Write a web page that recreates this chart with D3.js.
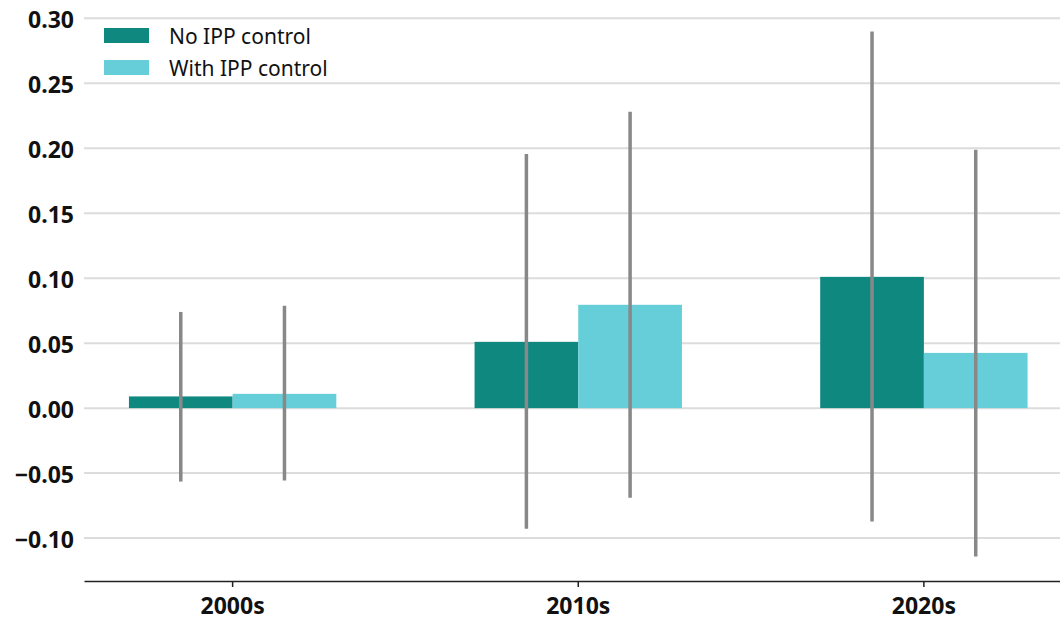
<!DOCTYPE html>
<html>
<head>
<meta charset="utf-8">
<script src="https://cdn.jsdelivr.net/npm/d3@7"></script>
<style>
  html, body { margin: 0; padding: 0; background: #fff; }
  svg { display: block; }
</style>
</head>
<body>
<svg id="chart" width="1060" height="620"></svg>
<script>
const categories = ["2000s", "2010s", "2020s"];
const seriesNames = ["No IPP control", "With IPP control"];
const noIppValues = [0.009, 0.051, 0.101];
const noIppLow = [-0.0565, -0.0928, -0.0873];
const noIppHigh = [0.074, 0.1956, 0.2898];
const withIppValues = [0.011, 0.0795, 0.0425];
const withIppLow = [-0.0557, -0.069, -0.1142];
const withIppHigh = [0.0787, 0.228, 0.1988];
const yTicks = [-0.10, -0.05, 0.00, 0.05, 0.10, 0.15, 0.20, 0.25, 0.30];
const colors = ["#0f8880", "#66ced8"];

const series = [
  { name: seriesNames[0], values: noIppValues, lo: noIppLow, hi: noIppHigh, color: colors[0] },
  { name: seriesNames[1], values: withIppValues, lo: withIppLow, hi: withIppHigh, color: colors[1] }
];

const svg = d3.select("#chart");
const left = 84, bottom = 581;

const y = d3.scaleLinear().domain([-0.133, 0.314]).range([bottom, 0]);
const x = d3.scaleBand().domain(categories).range([left, 1072.5]).paddingInner(0.4).paddingOuter(0.13);
const xs = d3.scaleBand().domain(seriesNames).range([0, x.bandwidth()]);

// gridlines
svg.append("g").selectAll("line").data(yTicks).join("line")
  .attr("x1", left).attr("x2", 1060)
  .attr("y1", d => y(d)).attr("y2", d => y(d))
  .attr("stroke", "#dcdcdc").attr("stroke-width", 2);

// y labels
const fmt = d3.format(".2f");
svg.append("g").selectAll("text").data(yTicks).join("text")
  .attr("x", left - 10).attr("y", d => y(d) + 1)
  .attr("text-anchor", "end").attr("dominant-baseline", "central")
  .style("font-family", "'Noto Sans', sans-serif").style("font-weight", "bold")
  .style("font-size", "23px").attr("fill", "#111")
  .text(d => fmt(d));

// bars
series.forEach(s => {
  svg.append("g").selectAll("rect").data(categories).join("rect")
    .attr("x", (c) => x(c) + xs(s.name))
    .attr("width", xs.bandwidth())
    .attr("y", (c, i) => y(Math.max(0, s.values[i])))
    .attr("height", (c, i) => Math.abs(y(s.values[i]) - y(0)))
    .attr("fill", s.color);
});

// error bars
series.forEach(s => {
  svg.append("g").selectAll("line").data(categories).join("line")
    .attr("x1", c => x(c) + xs(s.name) + xs.bandwidth() / 2)
    .attr("x2", c => x(c) + xs(s.name) + xs.bandwidth() / 2)
    .attr("y1", (c, i) => y(s.lo[i]))
    .attr("y2", (c, i) => y(s.hi[i]))
    .attr("stroke", "#888").attr("stroke-width", 3.5);
});

// x axis
const xAxis = svg.append("g").attr("transform", `translate(0,${bottom})`)
  .call(d3.axisBottom(x).tickSizeInner(6).tickSizeOuter(0).tickPadding(11));
xAxis.select(".domain").attr("stroke", "#222").attr("stroke-width", 1.5);
xAxis.selectAll(".tick line").attr("stroke", "#222").attr("stroke-width", 1.5);
xAxis.selectAll(".tick text")
  .style("font-family", "'Noto Sans', sans-serif").style("font-weight", "bold")
  .style("font-size", "23px").attr("fill", "#111");

// legend
const legend = svg.append("g");
series.forEach((s, i) => {
  legend.append("rect").attr("x", 104).attr("y", 28 + i * 32).attr("width", 45).attr("height", 15).attr("fill", s.color);
  legend.append("text").attr("x", 169).attr("y", 36 + i * 32)
    .attr("dominant-baseline", "central")
    .style("font-family", "'Noto Sans', sans-serif").style("font-size", "21px").attr("fill", "#111")
    .text(s.name);
});
</script>
</body>
</html>
